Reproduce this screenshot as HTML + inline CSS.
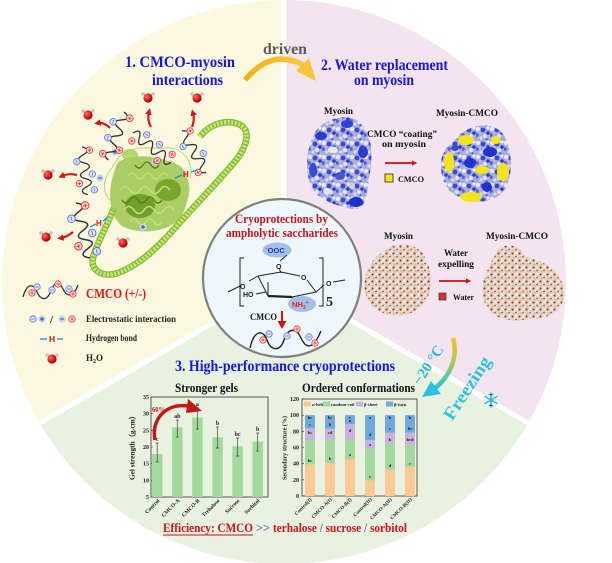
<!DOCTYPE html>
<html><head><meta charset="utf-8">
<style>
html,body{margin:0;padding:0;background:#fff;width:612px;height:563px;overflow:hidden}
svg{display:block}
text{font-family:"Liberation Serif",serif;font-weight:bold}
.sans{font-family:"Liberation Sans",sans-serif}
</style></head><body>
<svg width="612" height="563" viewBox="0 0 612 563" xmlns="http://www.w3.org/2000/svg">
<defs>
 <linearGradient id="gold" x1="0" y1="0" x2="1" y2="0"><stop offset="0" stop-color="#f4b21c"/><stop offset="1" stop-color="#f8c63c"/></linearGradient>
 <linearGradient id="frz" x1="0" y1="0" x2="0" y2="1"><stop offset="0" stop-color="#f6c21e"/><stop offset="0.5" stop-color="#a8c860"/><stop offset="1" stop-color="#26c0e2"/></linearGradient>
 <radialGradient id="redsph" cx="0.35" cy="0.35" r="0.7"><stop offset="0" stop-color="#ff7070"/><stop offset="0.6" stop-color="#e01818"/><stop offset="1" stop-color="#900000"/></radialGradient>
 <pattern id="wdots" width="7" height="7" patternUnits="userSpaceOnUse">
   <rect width="7" height="7" fill="#dcd9ca"/>
   <circle cx="1.5" cy="1.5" r="1.1" fill="#d82020"/>
   <circle cx="5" cy="4.5" r="0.9" fill="#e23030"/>
   <circle cx="2.5" cy="5.5" r="1.1" fill="#b9c98e"/>
   <circle cx="5.5" cy="1" r="1" fill="#f6f6f6"/>
   <circle cx="3.8" cy="3.4" r="0.8" fill="#f0f0ec"/>
 </pattern>
 <pattern id="bdots" width="14" height="14" patternUnits="userSpaceOnUse">
   <rect width="14" height="14" fill="#a6ace0"/>
   <circle cx="2" cy="3" r="2.2" fill="#e8e8ef"/>
   <circle cx="9" cy="10" r="2" fill="#e4e4ec"/>
   <circle cx="12" cy="2" r="1.5" fill="#f0f0f4"/>
   <circle cx="5" cy="12" r="1.6" fill="#dcdce6"/>
   <circle cx="7" cy="4" r="2.4" fill="#3848d4"/>
   <circle cx="1" cy="9" r="1.8" fill="#5060d8"/>
   <circle cx="12" cy="7" r="1.8" fill="#2a3ad0"/>
   <circle cx="10.5" cy="13.5" r="1.2" fill="#4858d6"/>
   <circle cx="4" cy="7.5" r="1.2" fill="#c9b8b0"/>
 </pattern>
 <marker id="rah" viewBox="0 0 10 10" refX="4" refY="5" markerWidth="3" markerHeight="3" orient="auto"><path d="M0,0 L10,5 L0,10 z" fill="#d01818"/></marker>
 <g id="pos"><circle r="3.2" fill="#ffe2e2" stroke="#e83030" stroke-width="0.8"/><path d="M-1.8,0H1.8M0,-1.8V1.8" stroke="#e83030" stroke-width="0.8"/></g>
 <g id="neg"><circle r="3.2" fill="#e2e6ff" stroke="#5b6ee8" stroke-width="0.8"/><path d="M-1.8,0H1.8" stroke="#5b6ee8" stroke-width="0.8"/></g>
 <g id="bplus"><circle r="3.6" fill="#c6d0f0"/><path d="M-2,0H2M0,-2V2" stroke="#2040c0" stroke-width="0.9"/></g>
 <g id="bminus"><circle r="3.6" fill="#c6d0f0"/><path d="M-2,0H2" stroke="#2040c0" stroke-width="0.9"/></g>
 <g id="h2o"><path d="M0,0L-5,-4M0,0L5,-4" stroke="#999" stroke-width="1.2"/><circle cx="-5" cy="-4" r="1.8" fill="#c4c4c4"/><circle cx="5" cy="-4" r="1.8" fill="#c4c4c4"/><circle r="4.6" fill="url(#redsph)"/></g>
 <path id="wave" d="M0,0 C2.7,-6.7 5.3,-6.7 8,0 S13.3,6.7 16,0 S21.3,-6.7 24,0 S29.3,6.7 32,0 S37.3,-6.7 40,0 S45.3,6.7 48,0" fill="none" stroke="#333" stroke-width="1.3"/>
</defs>

<!-- sectors -->
<path d="M284,282 L284,0 A282,282 0 0 0 39.8,423 Z" fill="#fbf8e0"/>
<path d="M284,282 L284,0 A282,282 0 0 1 528.2,423 Z" fill="#f4e4ef"/>
<path d="M284,282 L39.8,423 A282,282 0 0 0 528.2,423 Z" fill="#e9f1e1"/>
<path d="M284,282 L284,0 M284,282 L39.8,423 M284,282 L528.2,423" stroke="#fff" stroke-width="5"/>

<!-- driven arrow -->
<path d="M245,80 Q272,48 303,65" fill="none" stroke="url(#gold)" stroke-width="5.5"/>
<polygon points="316,81 296,71 309,58" fill="#f7c43a"/>
<text x="263" y="54" font-size="16" fill="#5c5c5c" textLength="44" lengthAdjust="spacingAndGlyphs">driven</text>

<!-- Section 1 titles -->
<text x="125" y="67" font-size="15.5" fill="#1616e0" textLength="110" lengthAdjust="spacingAndGlyphs">1.  CMCO-myosin</text>
<text x="152" y="85" font-size="15.5" fill="#1616e0" textLength="71" lengthAdjust="spacingAndGlyphs">interactions</text>

<!-- Section 2 titles -->
<text x="321" y="70" font-size="16" fill="#1616e0" textLength="127" lengthAdjust="spacingAndGlyphs">2. Water replacement</text>
<text x="354" y="85" font-size="16" fill="#1616e0" textLength="60" lengthAdjust="spacingAndGlyphs">on myosin</text>

<!-- Section 1 protein helix -->
<path d="M200,137 C208,125 228,117 242,126 C252,134 244,152 232,165 C215,185 195,205 175,228 C160,245 140,265 118,273 C102,278 90,270 93,258 C96,245 106,228 114,208" fill="none" stroke="#86b832" stroke-width="6.5"/>
<path d="M200,137 C208,125 228,117 242,126 C252,134 244,152 232,165 C215,185 195,205 175,228 C160,245 140,265 118,273 C102,278 90,270 93,258 C96,245 106,228 114,208" fill="none" stroke="#c4e676" stroke-width="4.5" stroke-dasharray="2.2 1.4"/>
<!-- head -->
<g>
 <path d="M118,162 C135,152 160,156 180,166 C192,176 190,200 182,215 C172,232 140,236 122,226 C108,215 106,187 118,162 Z" fill="#9cc650" opacity="0.85"/>
 <ellipse cx="130" cy="155" rx="8" ry="6" fill="#a8d05a" opacity="0.8"/>
 <ellipse cx="168" cy="190" rx="13" ry="11" fill="#6e9c22" opacity="0.8"/>
 <ellipse cx="140" cy="206" rx="15" ry="12" fill="#649420" opacity="0.8"/>
 <path d="M120,190 q5,-7 10,0 t10,0 t10,0 t10,0 t10,0 M124,210 q5,-7 10,0 t10,0 t10,0 t10,0 t10,0 M128,176 q4,-6 8,0 t8,0 t8,0 t8,0 t8,0 M130,222 q4,-6 8,0 t8,0 t8,0 t8,0" fill="none" stroke="#c0e070" stroke-width="1.6"/>
 <path d="M122,200 q4,6 8,0 t8,0 t8,0 t8,0 t8,0 M135,165 q4,6 8,0 t8,0 t8,0" fill="none" stroke="#4f7f14" stroke-width="1.2"/>
 <path d="M112,168 C125,140 150,150 165,148 C180,146 195,160 190,178 M170,160 C185,170 195,185 185,205 M110,200 C100,190 105,175 112,168" fill="none" stroke="#a8d060" stroke-width="0.8"/>
</g>
<use href="#bplus" x="115" y="152"/>
<use href="#bplus" x="155" y="162"/>
<use href="#bplus" x="143" y="227"/>
<use href="#bminus" x="100" y="178"/>

<!-- waves section 1 -->
<g transform="translate(124,112) rotate(108) scale(1.05)"><use href="#wave"/><use href="#pos" x="4" y="-7"/><use href="#neg" x="12" y="7"/><use href="#neg" x="28" y="7"/><use href="#pos" x="36" y="-7"/><use href="#pos" x="44" y="7"/></g>
<g transform="translate(133,133) rotate(37.6)"><use href="#wave"/><use href="#pos" x="4" y="7"/><use href="#neg" x="12" y="-7"/><use href="#neg" x="28" y="-7"/><use href="#pos" x="36" y="7"/><use href="#pos" x="44" y="-7"/></g>
<g transform="translate(182,131) rotate(59.7)"><use href="#wave"/><use href="#pos" x="4" y="-7"/><use href="#neg" x="14" y="7"/><use href="#neg" x="30" y="-7"/><use href="#pos" x="44" y="7"/></g>
<g transform="translate(82,147) rotate(83)"><use href="#wave"/><use href="#pos" x="4" y="-7"/><use href="#neg" x="14" y="7"/><use href="#neg" x="28" y="-7"/><use href="#pos" x="36" y="7"/><use href="#neg" x="44" y="-7"/></g>
<g transform="translate(76,203) rotate(75.7) scale(1.18)"><use href="#wave"/><use href="#pos" x="4" y="-7"/><use href="#neg" x="12" y="7"/><use href="#neg" x="28" y="-7"/><use href="#pos" x="36" y="7"/><use href="#neg" x="44" y="-7"/></g>

<!-- H bonds -->
<path d="M175,178 L182,175 M191,172 L197,170" stroke="#2a8ad8" stroke-width="1.3"/>
<text x="183" y="177" font-size="8" fill="#e01010" class="sans">H</text>
<path d="M90,227 L96,224 M103,221 L108,217" stroke="#2a8ad8" stroke-width="1.3"/>
<text x="96" y="226" font-size="8" fill="#e01010" class="sans">H</text>

<!-- water molecules & red arrows -->
<use href="#h2o" x="88" y="115"/>
<use href="#h2o" x="148" y="98"/>
<use href="#h2o" x="197" y="98"/>
<use href="#h2o" x="48" y="175"/>
<use href="#h2o" x="46" y="237"/>
<use href="#h2o" x="123" y="243"/>
<g fill="none" stroke="#d01818" stroke-width="2.2" marker-end="url(#rah)">
 <path d="M110,128 Q104,122 98,123"/>
 <path d="M151,127 Q147,120 149,112"/>
 <path d="M192,127 Q195,120 193,113"/>
 <path d="M77,175 Q69,173 62,176"/>
 <path d="M73,232 Q67,237 61,238"/>
</g>

<!-- Legend -->
<path d="M23,297 C27,283 33,283 37,292 S47,301 51,291 S59,281 63,289 S73,298 78,285" fill="none" stroke="#333" stroke-width="1.3"/>
<use href="#pos" x="32" y="293"/><use href="#neg" x="37" y="287"/><use href="#neg" x="52" y="290"/><use href="#pos" x="58" y="284"/><use href="#neg" x="69" y="289"/><use href="#pos" x="73" y="294"/>
<text x="86" y="298" font-size="14" fill="#ee1111" textLength="60" lengthAdjust="spacingAndGlyphs">CMCO (+/-)</text>
<use href="#neg" x="33" y="319"/><use href="#bplus" x="42" y="319"/>
<text x="50" y="323" font-size="11" fill="#222" font-weight="normal">/</text>
<use href="#bminus" x="62" y="319"/><use href="#pos" x="72" y="319"/>
<text x="86" y="322" font-size="9" fill="#222" textLength="90" lengthAdjust="spacingAndGlyphs">Electrostatic interaction</text>
<path d="M40,339 H47 M57,339 H63" stroke="#2a7ad8" stroke-width="1.3"/>
<text x="49" y="342" font-size="8.5" fill="#e01010" class="sans">H</text>
<text x="86" y="341" font-size="9" fill="#222" textLength="51" lengthAdjust="spacingAndGlyphs">Hydrogen bond</text>
<use href="#h2o" x="52" y="359"/>
<text x="86" y="361" font-size="9" fill="#222">H<tspan font-size="6" dy="2">2</tspan><tspan dy="-2">O</tspan></text>

<!-- Section 2 upper -->
<text x="324" y="114" font-size="9" fill="#111" textLength="29" lengthAdjust="spacingAndGlyphs">Myosin</text>
<text x="436" y="116" font-size="9" fill="#111" textLength="62" lengthAdjust="spacingAndGlyphs">Myosin-CMCO</text>
<text x="367" y="137" font-size="9" fill="#111" textLength="70" lengthAdjust="spacingAndGlyphs">CMCO “coating”</text>
<text x="382" y="147" font-size="9" fill="#111" textLength="44" lengthAdjust="spacingAndGlyphs">on myosin</text>
<line x1="385" y1="163" x2="414" y2="163" stroke="#cc1010" stroke-width="1.8" marker-end="url(#rah)"/>
<rect x="385" y="174" width="8" height="8" fill="#f4e614" stroke="#222" stroke-width="0.8"/>
<text x="398" y="182" font-size="8" fill="#111" textLength="26" lengthAdjust="spacingAndGlyphs">CMCO</text>

<!-- blue blob 1 -->
<g>
 <path d="M318,128 C330,116 355,113 362,125 C373,136 373,160 369,178 C367,195 366,211 352,209 C338,206 318,201 311,186 C304,170 306,144 318,128 Z" fill="url(#bdots)"/>
 <ellipse cx="321" cy="136" rx="6" ry="4" fill="#2b3bd0"/>
 <ellipse cx="347" cy="124" rx="6" ry="4" fill="#3040d4"/>
 <ellipse cx="363" cy="152" rx="5" ry="6" fill="#2b3bd0"/>
 <ellipse cx="356" cy="202" rx="7" ry="5" fill="#1e2ed0"/>
 <ellipse cx="313" cy="170" rx="4" ry="7" fill="#3a48d4"/>
 <ellipse cx="340" cy="176" rx="5" ry="4" fill="#4454d6"/>
 <ellipse cx="333" cy="150" rx="5" ry="3.5" fill="#e8e8ee"/>
 <ellipse cx="327" cy="191" rx="4" ry="3" fill="#e4e4ea"/>
 <ellipse cx="352" cy="186" rx="3" ry="3" fill="#d8d0d0"/>
</g>
<!-- blob 2 -->
<g>
 <path d="M455,140 C465,126 486,121 499,130 C511,140 513,165 509,180 C505,196 490,204 470,201 C454,199 441,186 441,166 C440,155 447,146 455,140 Z" fill="url(#bdots)"/>
 <ellipse cx="449" cy="162" rx="5" ry="10" fill="#f2e418"/>
 <ellipse cx="466" cy="140" rx="8" ry="5" fill="#f2e418"/>
 <ellipse cx="482" cy="170" rx="7" ry="4" fill="#f2e418"/>
 <ellipse cx="503" cy="172" rx="6" ry="9" fill="#f2e418"/>
 <ellipse cx="471" cy="197" rx="11" ry="5" fill="#f2e418"/>
 <ellipse cx="496" cy="140" rx="5" ry="4" fill="#f2e418"/>
 <ellipse cx="470" cy="163" rx="6" ry="5" fill="#2232cc"/>
 <ellipse cx="490" cy="152" rx="7" ry="5" fill="#2232cc"/>
 <ellipse cx="487" cy="187" rx="5" ry="5" fill="#2030d0"/>
 <ellipse cx="455" cy="148" rx="4" ry="3" fill="#3a48d4"/>
</g>

<!-- Section 2 lower -->
<text x="384" y="239" font-size="9" fill="#111" textLength="29" lengthAdjust="spacingAndGlyphs">Myosin</text>
<text x="486" y="239" font-size="9" fill="#111" textLength="62" lengthAdjust="spacingAndGlyphs">Myosin-CMCO</text>
<text x="444" y="256" font-size="9" fill="#111" textLength="24" lengthAdjust="spacingAndGlyphs">Water</text>
<text x="438" y="267" font-size="9" fill="#111" textLength="36" lengthAdjust="spacingAndGlyphs">expelling</text>
<line x1="439" y1="281" x2="468" y2="281" stroke="#cc1010" stroke-width="1.8" marker-end="url(#rah)"/>
<rect x="439" y="293" width="7" height="7" fill="#d83030" stroke="#333" stroke-width="0.7"/>
<text x="453" y="300" font-size="8" fill="#111" textLength="21" lengthAdjust="spacingAndGlyphs">Water</text>
<path d="M380,254 C395,239 421,242 426,260 C434,275 433,296 421,306 C410,319 384,319 371,305 C359,290 365,264 380,254 Z" fill="url(#wdots)"/>
<path d="M495,255 C499,242 521,242 525,257 C541,259 561,270 564,290 C567,306 550,321 530,319 C510,323 489,319 484,300 C479,284 488,268 495,255 Z" fill="url(#wdots)"/>

<!-- center circle -->
<circle cx="282" cy="278" r="79" fill="#eef8fb" stroke="#808080" stroke-width="2.2"/>
<text x="235" y="223" font-size="13" fill="#c8141c" textLength="93" lengthAdjust="spacingAndGlyphs">Cryoprotections by</text>
<text x="226" y="237" font-size="13" fill="#c8141c" textLength="112" lengthAdjust="spacingAndGlyphs">ampholytic saccharides</text>
<ellipse cx="277" cy="250" rx="14.5" ry="7.5" fill="#a6bfe6"/>
<text x="266" y="253" font-size="7.5" fill="#1a3ad0" class="sans"><tspan font-size="5" dy="-3">-</tspan><tspan dy="3">OOC</tspan></text>
<g stroke="#222" stroke-width="1" fill="none">
 <path d="M287,255 L280,261"/>
 <path d="M279,268 L281,273"/>
 <path d="M258,276 L281,272 L300,276"/>
 <path d="M307,280 L316,292 L292,297 L268,296 L258,276"/>
 <path d="M292,297 L268,296" stroke-width="2.2"/>
 <path d="M268,296 L268,282 M292,297 L296,304 M316,292 L324,285 M258,276 L249,281"/>
 <path d="M228,292 L240,286"/>
 <path d="M256,294 L266,292"/>
 <path d="M333,282 L345,280"/>
 <path d="M244,258 L240,258 L240,306 L244,306 M319,258 L323,258 L323,306 L319,306"/>
</g>
<text x="276" y="269" font-size="7" fill="#222" class="sans" font-weight="normal">O</text>
<text x="301" y="280" font-size="7" fill="#222" class="sans" font-weight="normal">O</text>
<text x="240" y="289" font-size="7" fill="#222" class="sans" font-weight="normal">O</text>
<text x="326" y="286" font-size="7" fill="#222" class="sans" font-weight="normal">O</text>
<text x="243" y="297" font-size="7" fill="#222" class="sans" font-weight="normal">HO</text>
<ellipse cx="302" cy="304" rx="14" ry="8" fill="#a6bfe6"/>
<text x="292" y="307" font-size="7.5" fill="#e02020" class="sans">NH<tspan font-size="5" dy="2">3</tspan><tspan font-size="5" dy="-5">+</tspan></text>
<text x="326" y="306" font-size="14" fill="#222">5</text>
<text x="250" y="320" font-size="9" fill="#111" textLength="27" lengthAdjust="spacingAndGlyphs">CMCO</text>
<line x1="282" y1="311" x2="282" y2="322" stroke="#d01010" stroke-width="2"/>
<polygon points="277.5,321 286.5,321 282,329" fill="#d01010"/>
<path d="M250,348 C254,330 263,329 267,340 S280,352 284,340 S296,327 301,338 S313,350 321,331" fill="none" stroke="#222" stroke-width="1.4"/>
<use href="#pos" x="263" y="340"/><use href="#neg" x="269" y="334"/><use href="#neg" x="287" y="336"/><use href="#pos" x="297" y="329"/><use href="#neg" x="309" y="337"/><use href="#pos" x="315" y="343"/>

<!-- Freezing arrow -->
<path d="M453,338 C458,355 452,375 434,389" fill="none" stroke="url(#frz)" stroke-width="4.5"/>
<polygon points="422,397 431,381 441,394" fill="#2cc0e0"/>
<text x="428" y="370" font-size="15" fill="#2cb8d4" text-anchor="middle" transform="rotate(-57 428 365)">−20 °C</text>
<text x="467" y="394" font-size="18" fill="#2ec4dc" text-anchor="middle" transform="rotate(-57 467 388)" textLength="72" lengthAdjust="spacingAndGlyphs">Freezing</text>
<g stroke="#30bce0" stroke-width="1.5" stroke-linecap="round">
 <path d="M491,393 V407 M485,396.5 L497,403.5 M485,403.5 L497,396.5"/>
 <path d="M489,394 L491,396 L493,394 M489,406 L491,404 L493,406" stroke-width="1"/>
 <circle cx="491" cy="400" r="2" fill="#30bce0" stroke="none"/>
</g>

<!-- Section 3 -->
<text x="175" y="371" font-size="16" fill="#1616e6" textLength="220" lengthAdjust="spacingAndGlyphs">3. High-performance cryoprotections</text>
<text x="175" y="392" font-size="12.5" fill="#111" textLength="63" lengthAdjust="spacingAndGlyphs">Stronger gels</text>
<text x="302" y="392" font-size="12.5" fill="#111" textLength="113" lengthAdjust="spacingAndGlyphs">Ordered conformations</text>

<!-- Chart 1 -->
<g font-size="6" fill="#222">
 <rect x="151" y="397" width="117" height="100" fill="none" stroke="#333" stroke-width="0.8"/>
 <g stroke="#333" stroke-width="0.6"><path d="M151,397h2M151,413.7h2M151,430.3h2M151,447h2M151,463.7h2M151,480.3h2M151,497h2"/></g>
 <g text-anchor="end">
  <text x="149" y="399">35</text><text x="149" y="415.7">30</text><text x="149" y="432.3">25</text><text x="149" y="449">20</text><text x="149" y="465.7">15</text><text x="149" y="482.3">10</text><text x="149" y="499">5</text>
 </g>
 <g fill="#a2d99c">
  <rect x="152" y="453.9" width="10.5" height="43.1"/>
  <rect x="172.1" y="427.4" width="10.5" height="69.6"/>
  <rect x="192.2" y="417.5" width="10.5" height="79.5"/>
  <rect x="212.3" y="437.3" width="10.5" height="59.7"/>
  <rect x="232.4" y="446.3" width="10.5" height="50.7"/>
  <rect x="252.5" y="441.7" width="10.5" height="55.3"/>
 </g>
 <g stroke="#444" stroke-width="0.7">
  <path d="M157.2,443v19M155.7,443h3M155.7,462h3"/>
  <path d="M177.3,420v17M175.8,420h3M175.8,437h3"/>
  <path d="M197.4,408v21M195.9,408h3M195.9,429h3"/>
  <path d="M217.5,427v21M216,427h3M216,448h3"/>
  <path d="M237.6,438v18M236.1,438h3M236.1,456h3"/>
  <path d="M257.7,433v18M256.2,433h3M256.2,451h3"/>
 </g>
 <g text-anchor="middle" font-size="6">
  <text x="157.2" y="441">c</text><text x="177.3" y="418">ab</text><text x="197.4" y="406">a</text><text x="217.5" y="425">b</text><text x="237.6" y="436">bc</text><text x="257.7" y="431">b</text>
 </g>
 <g text-anchor="end" font-size="5.5">
  <text x="160" y="501" transform="rotate(-45 160 501)">Control</text>
  <text x="180" y="501" transform="rotate(-45 180 501)">CMCO-A</text>
  <text x="200" y="501" transform="rotate(-45 200 501)">CMCO-B</text>
  <text x="220" y="501" transform="rotate(-45 220 501)">Trehalose</text>
  <text x="240" y="501" transform="rotate(-45 240 501)">Sucrose</text>
  <text x="260" y="501" transform="rotate(-45 260 501)">Sorbitol</text>
 </g>
 <text x="134.5" y="446" font-size="7" text-anchor="middle" transform="rotate(-90 134.5 446)" textLength="68" lengthAdjust="spacingAndGlyphs">Gel strength（g.cm）</text>
</g>
<path d="M155,440 C151,420 165,403 188,406" fill="none" stroke="#c41818" stroke-width="3.5"/>
<polygon points="202,411 188,399 186,413" fill="#c41818"/>
<text x="152" y="412" font-size="7.5" fill="#d01818" textLength="13" lengthAdjust="spacingAndGlyphs">60%</text>

<!-- Chart 2 -->
<g font-size="6" fill="#222">
 <rect x="302" y="399" width="115" height="97" fill="none" stroke="#333" stroke-width="0.8"/>
 <g stroke="#333" stroke-width="0.6"><path d="M302,399h2M302,415.2h2M302,431.3h2M302,447.5h2M302,463.7h2M302,479.8h2M302,496h2"/></g>
 <g text-anchor="end">
  <text x="299" y="401">120</text><text x="299" y="417.2">100</text><text x="299" y="433.3">80</text><text x="299" y="449.5">60</text><text x="299" y="465.7">40</text><text x="299" y="481.8">20</text><text x="299" y="498">0</text>
 </g>
 <rect x="304" y="401.5" width="7" height="5" fill="#fcc995"/><text x="312" y="406" font-size="4.5">α-helix</text>
 <rect x="323" y="401.5" width="7" height="5" fill="#a5d8a0"/><text x="331" y="406" font-size="4.5">random-coil</text>
 <rect x="356" y="401.5" width="7" height="5" fill="#c9b3dd"/><text x="364" y="406" font-size="4.5">β-sheet</text>
 <rect x="386" y="401.5" width="7" height="5" fill="#6fa8dc"/><text x="394" y="406" font-size="4.5">β-turn</text>
 <g>
  <rect x="305" y="464.7" width="10" height="31.3" fill="#fcc995"/><rect x="305" y="440.1" width="10" height="24.6" fill="#a5d8a0"/><rect x="305" y="428.3" width="10" height="11.8" fill="#c9b3dd"/><rect x="305" y="415.2" width="10" height="13.1" fill="#6fa8dc"/>
  <rect x="325" y="463" width="10" height="33" fill="#fcc995"/><rect x="325" y="439.4" width="10" height="23.6" fill="#a5d8a0"/><rect x="325" y="428.7" width="10" height="10.7" fill="#c9b3dd"/><rect x="325" y="415.2" width="10" height="13.5" fill="#6fa8dc"/>
  <rect x="345" y="459" width="10" height="37" fill="#fcc995"/><rect x="345" y="440.1" width="10" height="18.9" fill="#a5d8a0"/><rect x="345" y="424.3" width="10" height="15.8" fill="#c9b3dd"/><rect x="345" y="415.2" width="10" height="9.1" fill="#6fa8dc"/>
  <rect x="365" y="480.5" width="10" height="15.5" fill="#fcc995"/><rect x="365" y="448.9" width="10" height="31.6" fill="#a5d8a0"/><rect x="365" y="440.1" width="10" height="8.8" fill="#c9b3dd"/><rect x="365" y="415.2" width="10" height="24.9" fill="#6fa8dc"/>
  <rect x="385" y="469.7" width="10" height="26.3" fill="#fcc995"/><rect x="385" y="443.8" width="10" height="25.9" fill="#a5d8a0"/><rect x="385" y="432.7" width="10" height="11.1" fill="#c9b3dd"/><rect x="385" y="415.2" width="10" height="17.5" fill="#6fa8dc"/>
  <rect x="405" y="467.1" width="10" height="28.9" fill="#fcc995"/><rect x="405" y="444.5" width="10" height="22.6" fill="#a5d8a0"/><rect x="405" y="432.7" width="10" height="11.8" fill="#c9b3dd"/><rect x="405" y="415.2" width="10" height="17.5" fill="#6fa8dc"/>
 </g>
 <g text-anchor="middle" font-size="4.5">
  <text x="310" y="419">bc</text><text x="310" y="426">c</text><text x="310" y="434">bc</text><text x="310" y="462">bc</text>
  <text x="330" y="419">bc</text><text x="330" y="426">b</text><text x="330" y="434">cd</text><text x="330" y="460">b</text>
  <text x="350" y="419">c</text><text x="350" y="422">a</text><text x="350" y="432">d</text><text x="350" y="456">a</text>
  <text x="370" y="419">a</text><text x="370" y="436">d</text><text x="370" y="446">a</text><text x="370" y="478">e</text>
  <text x="390" y="419">b</text><text x="390" y="430">c</text><text x="390" y="441">b</text><text x="390" y="467">d</text>
  <text x="410" y="419">b</text><text x="410" y="430">bc</text><text x="410" y="441">bcd</text><text x="410" y="465">c</text>
 </g>
 <g text-anchor="end" font-size="5">
  <text x="312" y="500" transform="rotate(-45 312 500)">Control(I)</text>
  <text x="332" y="500" transform="rotate(-45 332 500)">CMCO-A(I)</text>
  <text x="352" y="500" transform="rotate(-45 352 500)">CMCO-B(I)</text>
  <text x="372" y="500" transform="rotate(-45 372 500)">Control(II)</text>
  <text x="392" y="500" transform="rotate(-45 392 500)">CMCO-A(II)</text>
  <text x="412" y="500" transform="rotate(-45 412 500)">CMCO-B(II)</text>
 </g>
 <text x="286.5" y="448" font-size="6.5" text-anchor="middle" transform="rotate(-90 286.5 448)" textLength="64" lengthAdjust="spacingAndGlyphs">Secondary structure (%)</text>
</g>

<!-- Efficiency line -->
<text x="163" y="532" font-size="12.5" fill="#c8141c" textLength="90" lengthAdjust="spacingAndGlyphs">Efficiency: CMCO</text>
<line x1="163" y1="535" x2="253" y2="535" stroke="#c8141c" stroke-width="1"/>
<text x="256" y="532" font-size="12.5" fill="#4b6cb0" textLength="14" lengthAdjust="spacingAndGlyphs">&gt;&gt;</text>
<text x="273" y="532" font-size="12.5" fill="#c8141c" textLength="134" lengthAdjust="spacingAndGlyphs">terhalose <tspan fill="#4b6cb0">/</tspan> sucrose <tspan fill="#4b6cb0">/</tspan> sorbitol</text>
</svg>
</body></html>
